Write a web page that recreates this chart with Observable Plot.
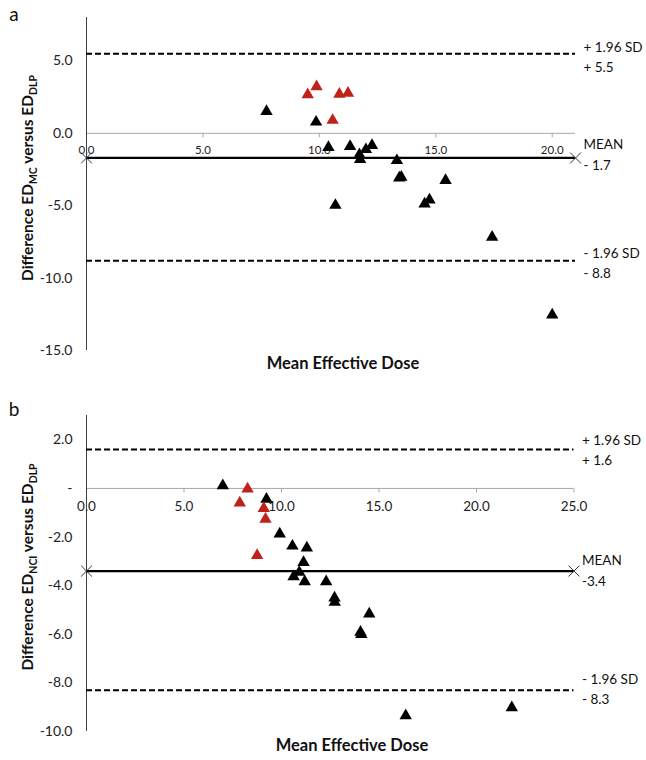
<!DOCTYPE html>
<html>
<head>
<meta charset="utf-8">
<script src="https://cdn.jsdelivr.net/npm/d3@7"></script>
<script src="https://cdn.jsdelivr.net/npm/@observablehq/plot@0.6"></script>
<style>
  body { margin: 0; background: #fff; }
  #chart { width: 646px; font-family: Lato, "Open Sans", sans-serif; }
  #chart svg { display: block; }
</style>
</head>
<body>
<div id="chart"></div>
<script>
// ---------- Panel a: ED_MC vs ED_DLP ----------
const aRedMean   = [9.50, 9.88, 10.86, 11.23, 10.57];
const aRedDiff   = [2.67, 3.22, 2.71, 2.78, 0.90];
const aBlackMean = [7.73, 9.86, 10.39, 11.32, 11.72, 11.75, 12.00, 12.26, 13.33, 13.43, 13.52, 15.42, 10.69, 14.52, 14.73, 17.42, 20.00];
const aBlackDiff = [1.52, 0.78, -0.97, -0.90, -1.47, -1.81, -1.12, -0.83, -1.88, -3.08, -3.03, -3.26, -4.97, -4.88, -4.60, -7.17, -12.55];
const aMean = -1.7, aUpper = 5.5, aLower = -8.8;
const aUpperLabel = "+ 1.96 SD\n+ 5.5";
const aMeanLabel  = "MEAN\n- 1.7";
const aLowerLabel = "- 1.96 SD\n- 8.8";
const aXTicks = [0, 5, 10, 15, 20];
const aXTickLabels = ["0.0", "5.0", "10.0", "15.0", "20.0"];
const aYTicks = [5, 0, -5, -10, -15];
const aYTickLabels = ["5.0", "0.0", "-5.0", "-10.0", "-15.0"];
const aXDomain = [0, 21];
const aYDomain = [-15, 8];

// ---------- Panel b: ED_NCI vs ED_DLP ----------
const bRedMean   = [8.26, 7.86, 9.09, 9.18, 8.75];
const bRedDiff   = [-0.02, -0.60, -0.82, -1.26, -2.76];
const bBlackMean = [6.99, 9.23, 9.91, 10.56, 11.30, 11.13, 10.91, 10.62, 11.19, 12.29, 12.72, 12.73, 14.50, 14.05, 14.09, 16.37, 21.81];
const bBlackDiff = [0.11, -0.44, -1.87, -2.37, -2.45, -3.04, -3.45, -3.63, -3.84, -3.84, -4.50, -4.68, -5.16, -5.91, -6.01, -9.35, -9.02];
const bMean = -3.4, bUpper = 1.6, bLower = -8.3;
const bUpperLabel = "+ 1.96 SD\n+ 1.6";
const bMeanLabel  = "MEAN\n-3.4";
const bLowerLabel = "- 1.96 SD\n- 8.3";
const bXTicks = [0, 5, 10, 15, 20, 25];
const bXTickLabels = ["0.0", "5.0", "10.0", "15.0", "20.0", "25.0"];
const bYTicks = [2, 0, -2, -4, -6, -8, -10];
const bYTickLabels = ["2.0", "-", "-2.0", "-4.0", "-6.0", "-8.0", "-10.0"];
const bXDomain = [0, 25];
const bYDomain = [-10, 3];

const RED = "#c0221b";
const FONT = "Lato, 'Open Sans', sans-serif";

const tickDown = { draw(ctx) { ctx.moveTo(0, 0); ctx.lineTo(0, 4); } };

function panel(cfg) {
  const red = cfg.redMean.map((m, i) => ({ m, d: cfg.redDiff[i] }));
  const black = cfg.blackMean.map((m, i) => ({ m, d: cfg.blackDiff[i] }));
  const yLab = new Map(cfg.yTicks.map((t, i) => [t, cfg.yTickLabels[i]]));
  const limitText = (y, label, dy) =>
    Plot.text([label], { x: cfg.xDomain[1], y, text: d => d, dx: 8, dy, textAnchor: "start", lineAnchor: "middle", lineHeight: 1.5, fontSize: 13.5, fill: "#111" });
  const svg = Plot.plot({
    width: 646,
    height: 380,
    marginLeft: 86,
    marginRight: cfg.marginRight,
    marginTop: cfg.marginTop,
    marginBottom: cfg.marginBottom,
    style: { fontFamily: FONT, background: "#fff", overflow: "visible" },
    x: { domain: cfg.xDomain, axis: null },
    y: { domain: cfg.yDomain, axis: null },
    marks: [
      Plot.axisY({ ticks: cfg.yTicks, tickFormat: d => yLab.get(d), tickSize: 0, tickPadding: 14, label: null, fontSize: 14, fill: "#222" }),
      Plot.ruleY([0], { stroke: "#a6a6a6", strokeWidth: 1 }),
      Plot.dot(cfg.xTicks, { x: d => d, y: 0, symbol: tickDown, stroke: "#a6a6a6", strokeWidth: 1 }),
      Plot.text(cfg.xTicks, { x: d => d, y: 0, text: (d, i) => cfg.xTickLabels[i], dy: cfg.xLabelDy, fontSize: cfg.xFont, fill: "#222" }),
      Plot.ruleX([0], { stroke: "#404040", strokeWidth: 1 }),
      Plot.ruleY([cfg.upper, cfg.lower], { stroke: "#000", strokeWidth: 2, strokeDasharray: "6,3" }),
      Plot.ruleY([cfg.mean], { stroke: "#000", strokeWidth: 2.2 }),
      Plot.dot(cfg.xDomain, { x: d => d, y: cfg.mean, symbol: "times", r: 5, stroke: "#333", strokeWidth: 1 }),
      Plot.dot(black, { x: "m", y: "d", symbol: "triangle", r: 4.6, fill: "#000" }),
      Plot.dot(red, { x: "m", y: "d", symbol: "triangle", r: 4.6, fill: RED }),
      limitText(cfg.upper, cfg.upperLabel, cfg.labelDy[0]),
      limitText(cfg.mean, cfg.meanLabel, cfg.labelDy[1]),
      limitText(cfg.lower, cfg.lowerLabel, cfg.labelDy[2])
    ]
  });
  const s = d3.select(svg);
  s.append("text").attr("x", 14).attr("y", cfg.titleY).attr("font-size", 19).attr("font-family", FONT).attr("fill", "#111").text(cfg.title);
  const yl = s.append("text")
    .attr("transform", `translate(33,${cfg.yLabelY}) rotate(-90)`)
    .attr("text-anchor", "middle")
    .attr("font-size", 15.5).attr("font-weight", "bold").attr("font-family", FONT).attr("fill", "#111");
  yl.append("tspan").text("Difference ED");
  yl.append("tspan").attr("dy", 4).attr("font-size", 10.5).text(cfg.sub1);
  yl.append("tspan").attr("dy", -4).text(" versus ED");
  yl.append("tspan").attr("dy", 4).attr("font-size", 10.5).text("DLP");
  s.append("text").attr("x", cfg.xLabelX).attr("y", cfg.xLabelY).attr("text-anchor", "middle")
    .attr("font-size", 16.5).attr("font-weight", "bold").attr("font-family", FONT).attr("fill", "#111")
    .text("Mean Effective Dose");
  return svg;
}

const chart = document.getElementById("chart");
chart.append(panel({
  title: "a", titleY: 21, sub1: "MC",
  redMean: aRedMean, redDiff: aRedDiff, blackMean: aBlackMean, blackDiff: aBlackDiff,
  mean: aMean, upper: aUpper, lower: aLower,
  upperLabel: aUpperLabel, meanLabel: aMeanLabel, lowerLabel: aLowerLabel, labelDy: [2, -5, 1],
  xTicks: aXTicks, xTickLabels: aXTickLabels, yTicks: aYTicks, yTickLabels: aYTickLabels,
  xDomain: aXDomain, yDomain: aYDomain,
  marginTop: 17, marginBottom: 30, marginRight: 71,
  xLabelDy: 17, xFont: 11.5, yLabelY: 178, xLabelX: 343, xLabelY: 369
}));
chart.append(panel({
  title: "b", titleY: 36, sub1: "NCI",
  redMean: bRedMean, redDiff: bRedDiff, blackMean: bBlackMean, blackDiff: bBlackDiff,
  mean: bMean, upper: bUpper, lower: bLower,
  upperLabel: bUpperLabel, meanLabel: bMeanLabel, lowerLabel: bLowerLabel, labelDy: [-1, -2, -3],
  xTicks: bXTicks, xTickLabels: bXTickLabels, yTicks: bYTicks, yTickLabels: bYTickLabels,
  xDomain: bXDomain, yDomain: bYDomain,
  marginTop: 35, marginBottom: 29, marginRight: 72.5,
  xLabelDy: 18, xFont: 13.5, yLabelY: 187, xLabelX: 352, xLabelY: 371
}));
</script>
</body>
</html>
